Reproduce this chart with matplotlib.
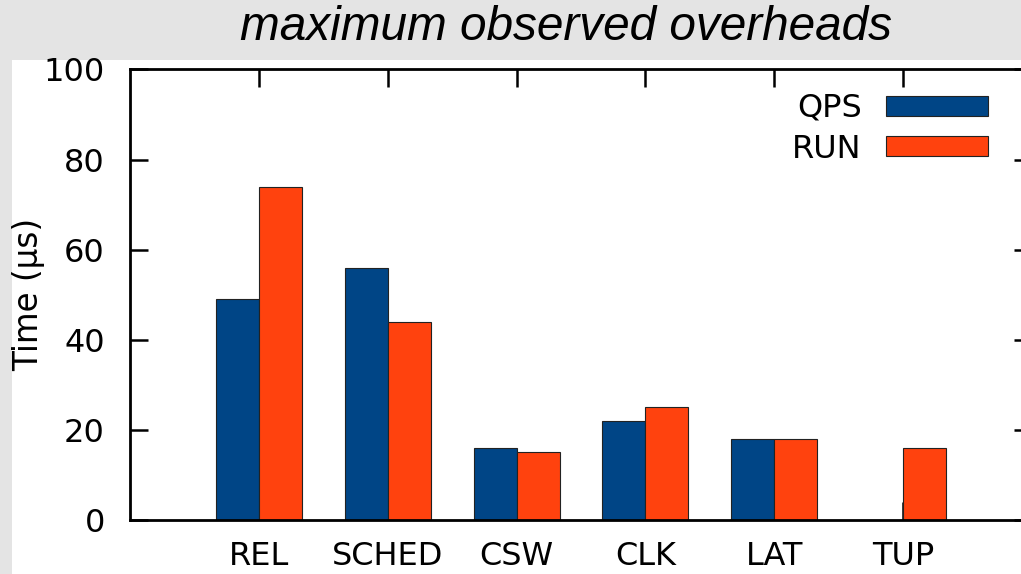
import matplotlib
matplotlib.use("Agg")
import matplotlib.pyplot as plt
from matplotlib.patches import Rectangle
import numpy as np

plt.rcParams["font.family"] = ["DejaVu Sans"]

categories = ["REL", "SCHED", "CSW", "CLK", "LAT", "TUP"]
qps = [49, 56, 16, 22, 18, 0]
run = [74, 44, 15, 25, 18, 16]
yticks = [0, 20, 40, 60, 80, 100]

W, H = 1021, 574
fig = plt.figure(figsize=(W / 100, H / 100), dpi=100)
fig.patch.set_facecolor("#e4e4e4")
# white image region
fig.patches.append(Rectangle((12 / W, 0), 1 - 12 / W, (H - 60) / H,
                             transform=fig.transFigure, facecolor="white",
                             edgecolor="none", zorder=-1))

left, right = 130 / W, 1032 / W
bottom, top = (H - 520) / H, (H - 69.5) / H
ax = fig.add_axes([left, bottom, right - left, top - bottom])
ax.set_zorder(1)
ax.set_facecolor("white")

x = np.arange(1, len(categories) + 1)
bw = 1 / 3
ax.bar(x - bw / 2, qps, bw, color="#004586", edgecolor="#222222", linewidth=0.8, label="QPS", zorder=2)
ax.bar(x + bw / 2, run, bw, color="#ff420e", edgecolor="#222222", linewidth=0.8, label="RUN", zorder=2)

ax.set_xlim(0, 7)
ax.set_ylim(0, 100)
ax.set_xticks(x)
ax.set_xticklabels(categories)
ax.set_yticks(yticks)
for s in ax.spines.values():
    s.set_linewidth(2)
    s.set_zorder(3)
ax.tick_params(direction="in", length=13, width=1.8, labelsize=23, top=True, right=True)
ax.tick_params(axis="y", pad=18)
ax.tick_params(axis="x", pad=15)
ax.set_ylabel("Time (µs)", fontsize=23.5, labelpad=-1)

leg = ax.legend(loc="upper right", bbox_to_anchor=(988 / W, (H - 93) / H),
                bbox_transform=fig.transFigure, frameon=False, fontsize=23,
                markerfirst=False, handlelength=3.2, handleheight=0.6,
                handletextpad=0.75, labelspacing=0.3, borderaxespad=0, borderpad=0)

fig.text(566 / W, (H - 28) / H, "maximum observed overheads", ha="center", va="center",
         fontsize=34.4, style="italic", family="Liberation Sans")

fig.savefig("out.png", dpi=100, facecolor=fig.get_facecolor())
